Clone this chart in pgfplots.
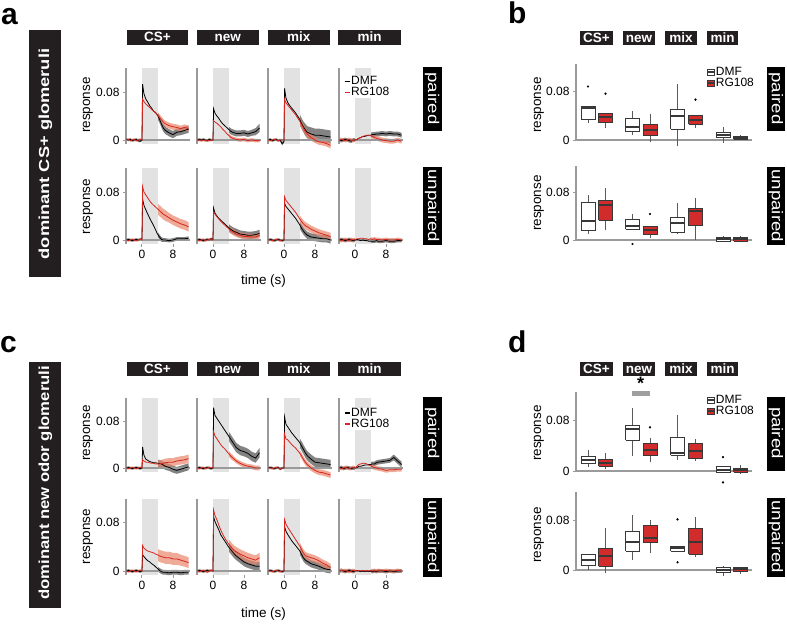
\documentclass[border=0pt]{standalone}
\usepackage{fontspec}
\setmainfont{Liberation Sans}
\usepackage{pgfplots}
\pgfplotsset{compat=1.18}
\usepackage{pgfplotstable}
\usepgfplotslibrary{fillbetween}
\definecolor{rline}{HTML}{D7261E}
\definecolor{rband}{HTML}{E8866C}
\definecolor{bband}{HTML}{5A5A5A}
\definecolor{stimgray}{HTML}{E2E2E2}
\definecolor{axgray}{HTML}{9A9A9A}
\definecolor{hdr}{HTML}{231F20}
\definecolor{boxred}{HTML}{D22B2B}
\definecolor{boxline}{HTML}{383838}
\definecolor{whisk}{HTML}{5A5A5A}

\pgfplotsset{
 ts/.style={anchor=south west, scale only axis, width=63.94pt, xmin=-4.1, xmax=12.4, ymin=-0.006, ymax=0.12,
   axis y line*=left, axis x line*=bottom, x axis line style={draw=none},
   y axis line style={axgray, line width=1.3pt},
   xtick=\empty, ytick=\empty, clip=false, tick align=outside, major tick length=3pt,
   tick style={axgray, line width=1pt},
   tick label style={font=\fontsize{12}{12}\selectfont}},
 tsfirst/.style={ytick={0,0.08}, yticklabels={0,0.08}},
 tsbottom/.style={xtick={0,8}, xticklabels={0,8}},
 tslegend/.style={legend style={at={(0.063,#1)}, anchor=north west, draw=none, fill=white,
   inner sep=0.5pt, row sep=0.5pt, column sep=0.5pt, cells={anchor=west}, nodes={inner sep=0.3pt},
   font=\fontsize{12}{12}\selectfont},
   legend image code/.code={\draw[##1, line width=1.6pt] (0pt,0pt) -- (5pt,0pt);}},
 bx/.style={anchor=south west, scale only axis, width=176pt, xmin=0, xmax=176, ymin=-0.02, ymax=0.128,
   axis y line*=left, axis x line*=bottom, x axis line style={draw=none}, xtick=\empty,
   y axis line style={draw=none},
   ytick={0,0.08}, yticklabels={0,0.08}, clip=false, tick align=outside, major tick length=3pt,
   tick style={axgray, line width=1pt},
   tick label style={font=\fontsize{12}{12}\selectfont}},
 bxlegend/.style={legend style={at={(0.739,#1)}, anchor=north west, draw=none, fill=none,
   inner sep=0.5pt, row sep=0.5pt, column sep=0.5pt, cells={anchor=west}, nodes={inner sep=0.3pt},
   font=\fontsize{12}{12}\selectfont},
   legend image code/.code={\draw[##1, line width=0.9pt] (0pt,-3pt) rectangle (7pt,3pt);
     \draw[##1, line width=1.3pt] (0pt,0pt) -- (7pt,0pt);}},
}

% #1 left x (px), #2 bottom y (px), #3 height (pt), #4 table, #5 options, #6 extra
\newcommand{\ts}[6]{%
\begin{axis}[ts, height=#3pt, at={(#1pt,-#2pt)}, #5]
\fill[stimgray] (axis cs:0,-0.006) rectangle (axis cs:4,0.12);
\draw[axgray, line width=1.3pt] (axis cs:-4.1,0) -- (axis cs:12.4,0);
\addplot[draw=none, name path=du, forget plot] table[x=t, y expr=\thisrow{d}+\thisrow{de}] {#4};
\addplot[draw=none, name path=dl, forget plot] table[x=t, y expr=\thisrow{d}-\thisrow{de}] {#4};
\addplot[bband, fill opacity=0.75, draw=none, forget plot] fill between[of=du and dl];
\addplot[draw=none, name path=ru, forget plot] table[x=t, y expr=\thisrow{r}+\thisrow{re}] {#4};
\addplot[draw=none, name path=rl, forget plot] table[x=t, y expr=\thisrow{r}-\thisrow{re}] {#4};
\addplot[rband, fill opacity=0.7, draw=none, forget plot] fill between[of=ru and rl];
\addplot[black, line width=0.8pt, forget plot] table[x=t,y=d] {#4};
\addplot[rline, line width=0.8pt, forget plot] table[x=t,y=r] {#4};
#6
\end{axis}}

% #1 bottom y (px), #2 height (pt), #3 options, #4 body
\newcommand{\bxax}[4]{%
\begin{axis}[bx, height=#2pt, at={(576pt,-#1pt)}, #3]
\draw[axgray, line width=1.3pt] (axis cs:0,0) -- (axis cs:176,0);
\draw[axgray, line width=1.3pt] (axis cs:0,0) -- (axis cs:0,0.125);
#4
\end{axis}}

% box: #1 position, #2 lower whisker, #3 lower quartile, #4 median, #5 upper quartile, #6 upper whisker, #7 fill
\newcommand{\bp}[7]{%
\pgfmathsetmacro\bxl{#1-7}\pgfmathsetmacro\bxr{#1+7}%
\addplot[forget plot, draw=whisk, line width=0.9pt] coordinates {(#1,#5) (#1,#6)};
\addplot[forget plot, draw=whisk, line width=0.9pt] coordinates {(#1,#3) (#1,#2)};
\addplot[forget plot, draw=boxline, fill=#7, line width=0.9pt] coordinates {(\bxl,#3) (\bxr,#3) (\bxr,#5) (\bxl,#5) (\bxl,#3)};
\addplot[forget plot, draw=boxline, line width=2pt] coordinates {(\bxl,#4) (\bxr,#4)};
}
\newcommand{\ol}[2]{\addplot[forget plot, only marks, mark=*, mark size=0.9pt, black] coordinates {(#1,#2)};}

\newcommand{\boxleg}{\addlegendimage{draw=boxline, fill=white}\addlegendentry{DMF}\addlegendimage{draw=boxline, fill=boxred}\addlegendentry{RG108}}
\newcommand{\tsleg}{\addlegendimage{black}\addlegendentry{DMF}\addlegendimage{rline}\addlegendentry{RG108}}

\begin{document}
% ---------------- panel a, paired
\pgfplotstableread[row sep=\\]{
t d de r re\\
-4 0.001 0.002 0.000 0.002\\
-3.5 0.000 0.002 0.001 0.002\\
-3 0.001 0.002 -0.001 0.002\\
-2.5 -0.001 0.002 0.000 0.002\\
-2 0.000 0.002 0.001 0.002\\
-1.5 0.001 0.002 -0.001 0.002\\
-1 -0.001 0.002 0.000 0.002\\
-0.5 -0.002 0.002 0.001 0.002\\
0 0.000 0.002 0.000 0.002\\
0.15 0.093 0.008 0.068 0.005\\
0.5 0.077 0.008 0.064 0.005\\
1 0.068 0.007 0.060 0.005\\
1.5 0.063 0.007 0.057 0.005\\
2 0.057 0.006 0.054 0.005\\
2.5 0.053 0.006 0.051 0.005\\
3 0.048 0.006 0.048 0.005\\
3.5 0.046 0.006 0.045 0.005\\
4 0.041 0.006 0.042 0.005\\
4.5 0.035 0.006 0.038 0.005\\
5 0.027 0.006 0.034 0.005\\
5.5 0.020 0.006 0.030 0.005\\
6 0.016 0.006 0.027 0.005\\
7 0.012 0.006 0.024 0.005\\
8 0.009 0.006 0.022 0.005\\
9 0.013 0.006 0.021 0.005\\
10 0.014 0.006 0.019 0.005\\
11 0.016 0.006 0.021 0.005\\
12 0.018 0.006 0.019 0.005\\
}\aPa
\pgfplotstableread[row sep=\\]{
t d de r re\\
-4 0.000 0.002 -0.001 0.002\\
-3.5 0.001 0.002 0.000 0.002\\
-3 0.000 0.002 -0.001 0.002\\
-2.5 0.001 0.002 0.000 0.002\\
-2 0.000 0.002 -0.001 0.002\\
-1.5 -0.001 0.002 0.000 0.002\\
-1 0.001 0.002 -0.001 0.002\\
-0.5 0.000 0.002 0.000 0.002\\
0 0.000 0.002 0.000 0.002\\
0.15 0.052 0.006 0.032 0.004\\
0.5 0.045 0.006 0.030 0.004\\
1 0.040 0.006 0.028 0.004\\
1.5 0.036 0.006 0.025 0.004\\
2 0.031 0.006 0.022 0.004\\
2.5 0.027 0.006 0.018 0.004\\
3 0.024 0.005 0.015 0.004\\
3.5 0.021 0.005 0.011 0.004\\
4 0.018 0.005 0.008 0.004\\
4.5 0.015 0.005 0.005 0.003\\
5 0.013 0.005 0.003 0.003\\
5.5 0.012 0.005 0.002 0.003\\
6 0.011 0.005 0.001 0.003\\
7 0.011 0.005 0.000 0.003\\
8 0.012 0.005 0.001 0.003\\
9 0.010 0.005 -0.001 0.003\\
10 0.012 0.005 0.000 0.003\\
11 0.014 0.006 -0.001 0.003\\
12 0.020 0.007 -0.001 0.003\\
}\aPb
\pgfplotstableread[row sep=\\]{
t d de r re\\
-4 0.000 0.002 0.000 0.002\\
-3.5 0.001 0.002 -0.001 0.002\\
-3 -0.001 0.002 0.000 0.002\\
-2.5 0.000 0.002 0.001 0.002\\
-2 0.001 0.002 0.000 0.002\\
-1.5 -0.001 0.002 -0.001 0.002\\
-1 0.000 0.002 0.000 0.002\\
-0.5 -0.006 0.003 0.000 0.002\\
0 -0.003 0.002 0.000 0.002\\
0.15 0.086 0.010 0.068 0.006\\
0.5 0.070 0.010 0.062 0.006\\
1 0.062 0.009 0.058 0.006\\
1.5 0.057 0.009 0.054 0.006\\
2 0.053 0.009 0.050 0.006\\
2.5 0.049 0.009 0.046 0.006\\
3 0.045 0.009 0.042 0.006\\
3.5 0.040 0.009 0.037 0.006\\
4 0.035 0.009 0.032 0.006\\
4.5 0.028 0.009 0.026 0.006\\
5 0.022 0.009 0.020 0.006\\
5.5 0.017 0.010 0.014 0.006\\
6 0.013 0.010 0.010 0.006\\
7 0.010 0.011 0.004 0.005\\
8 0.008 0.011 0.000 0.005\\
9 0.008 0.011 -0.003 0.005\\
10 0.007 0.011 -0.004 0.005\\
11 0.006 0.011 -0.006 0.005\\
12 0.005 0.011 -0.009 0.005\\
}\aPc
\pgfplotstableread[row sep=\\]{
t d de r re\\
-4 0.000 0.003 0.000 0.003\\
-3.5 -0.001 0.003 0.001 0.003\\
-3 0.000 0.003 0.000 0.003\\
-2.5 0.001 0.003 -0.001 0.003\\
-2 0.000 0.003 0.000 0.003\\
-1.5 -0.001 0.003 0.001 0.003\\
-1 -0.002 0.003 0.000 0.003\\
-0.5 0.000 0.003 -0.001 0.003\\
0 0.000 0.003 0.000 0.003\\
0.15 0.000 0.004 0.000 0.004\\
0.5 0.001 0.004 0.001 0.004\\
1 0.003 0.004 0.003 0.004\\
1.5 0.004 0.004 0.004 0.004\\
2 0.006 0.004 0.006 0.004\\
2.5 0.006 0.004 0.007 0.004\\
3 0.007 0.004 0.008 0.004\\
3.5 0.008 0.004 0.008 0.004\\
4 0.008 0.004 0.007 0.004\\
4.5 0.009 0.004 0.006 0.004\\
5 0.009 0.004 0.004 0.004\\
5.5 0.010 0.004 0.003 0.004\\
6 0.010 0.004 0.002 0.004\\
7 0.011 0.004 0.000 0.004\\
8 0.010 0.004 -0.001 0.004\\
9 0.011 0.004 -0.002 0.004\\
10 0.010 0.004 -0.002 0.004\\
11 0.010 0.004 0.000 0.004\\
12 0.008 0.004 -0.002 0.004\\
}\aPd
% ---------------- panel a, unpaired
\pgfplotstableread[row sep=\\]{
t d de r re\\
-4 0.000 0.002 0.000 0.002\\
-3.5 0.001 0.002 -0.001 0.002\\
-3 0.000 0.002 0.000 0.002\\
-2.5 -0.001 0.002 0.001 0.002\\
-2 0.000 0.002 0.000 0.002\\
-1.5 0.001 0.002 -0.001 0.002\\
-1 0.000 0.002 0.000 0.002\\
-0.5 0.001 0.002 0.001 0.002\\
0 0.002 0.002 0.000 0.002\\
0.15 0.068 0.005 0.089 0.009\\
0.5 0.058 0.005 0.080 0.009\\
1 0.050 0.005 0.075 0.009\\
1.5 0.043 0.005 0.070 0.009\\
2 0.036 0.005 0.065 0.009\\
2.5 0.030 0.005 0.061 0.009\\
3 0.024 0.005 0.058 0.009\\
3.5 0.017 0.005 0.055 0.009\\
4 0.010 0.004 0.052 0.009\\
4.5 0.005 0.004 0.049 0.009\\
5 0.001 0.004 0.046 0.009\\
5.5 0.000 0.003 0.043 0.009\\
6 0.000 0.003 0.041 0.009\\
7 -0.001 0.003 0.037 0.008\\
8 0.000 0.003 0.033 0.008\\
9 0.002 0.003 0.030 0.008\\
10 0.002 0.003 0.027 0.008\\
11 0.002 0.003 0.025 0.008\\
12 0.003 0.003 0.022 0.008\\
}\aUa
\pgfplotstableread[row sep=\\]{
t d de r re\\
-4 0.000 0.002 0.000 0.002\\
-3.5 0.001 0.002 -0.001 0.002\\
-3 0.000 0.002 0.000 0.002\\
-2.5 -0.001 0.002 0.001 0.002\\
-2 0.000 0.002 -0.001 0.002\\
-1.5 0.001 0.002 0.000 0.002\\
-1 0.000 0.002 0.001 0.002\\
-0.5 0.002 0.002 0.000 0.002\\
0 0.001 0.002 0.000 0.002\\
0.15 0.053 0.006 0.047 0.005\\
0.5 0.045 0.006 0.043 0.005\\
1 0.040 0.006 0.039 0.005\\
1.5 0.036 0.006 0.035 0.005\\
2 0.033 0.006 0.031 0.005\\
2.5 0.030 0.006 0.028 0.005\\
3 0.027 0.006 0.025 0.005\\
3.5 0.024 0.006 0.022 0.005\\
4 0.021 0.006 0.019 0.005\\
4.5 0.018 0.006 0.016 0.005\\
5 0.016 0.006 0.014 0.005\\
5.5 0.014 0.006 0.012 0.005\\
6 0.013 0.006 0.010 0.005\\
7 0.010 0.006 0.008 0.005\\
8 0.009 0.006 0.006 0.005\\
9 0.008 0.006 0.006 0.005\\
10 0.008 0.006 0.005 0.005\\
11 0.009 0.006 0.005 0.005\\
12 0.011 0.006 0.008 0.005\\
}\aUb
\pgfplotstableread[row sep=\\]{
t d de r re\\
-4 0.000 0.002 0.000 0.002\\
-3.5 0.001 0.002 0.000 0.002\\
-3 0.000 0.002 -0.001 0.002\\
-2.5 -0.001 0.002 0.000 0.002\\
-2 0.000 0.002 0.001 0.002\\
-1.5 0.001 0.002 0.000 0.002\\
-1 0.000 0.002 -0.001 0.002\\
-0.5 -0.001 0.002 0.000 0.002\\
0 0.000 0.002 0.000 0.002\\
0.15 0.061 0.006 0.072 0.006\\
0.5 0.056 0.006 0.066 0.006\\
1 0.052 0.006 0.062 0.006\\
1.5 0.048 0.006 0.058 0.006\\
2 0.044 0.006 0.054 0.006\\
2.5 0.040 0.006 0.050 0.006\\
3 0.036 0.006 0.046 0.006\\
3.5 0.031 0.006 0.041 0.006\\
4 0.026 0.006 0.036 0.006\\
4.5 0.020 0.006 0.031 0.006\\
5 0.015 0.006 0.027 0.006\\
5.5 0.011 0.006 0.024 0.006\\
6 0.008 0.006 0.022 0.006\\
7 0.005 0.006 0.018 0.006\\
8 0.004 0.006 0.015 0.006\\
9 0.003 0.006 0.012 0.006\\
10 0.002 0.006 0.010 0.006\\
11 0.002 0.006 0.008 0.006\\
12 0.000 0.006 0.006 0.006\\
}\aUc
\pgfplotstableread[row sep=\\]{
t d de r re\\
-4 0.000 0.003 0.000 0.003\\
-3.5 0.001 0.003 -0.001 0.003\\
-3 0.000 0.003 0.000 0.003\\
-2.5 -0.001 0.003 0.001 0.003\\
-2 0.000 0.003 0.000 0.003\\
-1.5 0.001 0.003 -0.001 0.003\\
-1 0.000 0.003 0.001 0.003\\
-0.5 -0.001 0.003 0.000 0.003\\
0 0.000 0.003 0.001 0.003\\
0.15 0.000 0.003 0.001 0.003\\
0.5 0.001 0.003 0.002 0.003\\
1 0.000 0.003 0.002 0.003\\
1.5 -0.001 0.003 0.003 0.003\\
2 0.000 0.003 0.003 0.003\\
2.5 -0.001 0.003 0.002 0.003\\
3 -0.001 0.003 0.002 0.003\\
3.5 -0.002 0.003 0.001 0.003\\
4 -0.002 0.003 0.002 0.003\\
4.5 -0.002 0.003 0.001 0.003\\
5 -0.002 0.003 0.002 0.003\\
5.5 -0.001 0.003 0.001 0.003\\
6 -0.002 0.003 0.001 0.003\\
7 -0.002 0.003 0.000 0.003\\
8 -0.001 0.003 0.001 0.003\\
9 -0.002 0.003 0.000 0.003\\
10 -0.002 0.003 0.000 0.003\\
11 -0.001 0.003 0.001 0.003\\
12 -0.001 0.003 0.000 0.003\\
}\aUd
% ---------------- panel c, paired
\pgfplotstableread[row sep=\\]{
t d de r re\\
-4 0.000 0.002 0.000 0.002\\
-3.5 0.001 0.002 -0.001 0.002\\
-3 0.000 0.002 0.000 0.002\\
-2.5 -0.001 0.002 0.001 0.002\\
-2 0.000 0.002 0.000 0.002\\
-1.5 0.001 0.002 -0.001 0.002\\
-1 0.000 0.002 0.000 0.002\\
-0.5 -0.001 0.002 0.001 0.002\\
0 0.000 0.002 0.000 0.002\\
0.15 0.036 0.006 0.014 0.006\\
0.5 0.022 0.006 0.012 0.006\\
1 0.015 0.006 0.010 0.006\\
1.5 0.013 0.006 0.010 0.006\\
2 0.011 0.006 0.009 0.006\\
2.5 0.010 0.006 0.008 0.006\\
3 0.009 0.006 0.008 0.006\\
3.5 0.009 0.006 0.007 0.006\\
4 0.008 0.006 0.007 0.006\\
4.5 0.008 0.006 0.007 0.006\\
5 0.007 0.006 0.008 0.006\\
5.5 0.005 0.006 0.008 0.007\\
6 0.003 0.006 0.009 0.007\\
7 0.001 0.006 0.010 0.007\\
8 -0.002 0.006 0.010 0.007\\
9 -0.004 0.006 0.012 0.007\\
10 -0.002 0.006 0.013 0.007\\
11 0.000 0.006 0.014 0.007\\
12 0.002 0.006 0.016 0.007\\
}\cPa
\pgfplotstableread[row sep=\\]{
t d de r re\\
-4 0.000 0.002 0.000 0.002\\
-3.5 0.001 0.002 -0.001 0.002\\
-3 0.000 0.002 0.000 0.002\\
-2.5 -0.001 0.002 0.001 0.002\\
-2 0.000 0.002 -0.001 0.002\\
-1.5 0.001 0.002 0.000 0.002\\
-1 0.000 0.002 0.001 0.002\\
-0.5 -0.001 0.002 0.000 0.002\\
0 0.000 0.002 0.000 0.002\\
0.15 0.103 0.008 0.062 0.006\\
0.5 0.090 0.008 0.055 0.006\\
1 0.085 0.008 0.050 0.006\\
1.5 0.080 0.008 0.045 0.006\\
2 0.075 0.008 0.040 0.005\\
2.5 0.070 0.008 0.036 0.005\\
3 0.065 0.008 0.033 0.005\\
3.5 0.060 0.008 0.029 0.005\\
4 0.055 0.008 0.025 0.005\\
4.5 0.050 0.008 0.021 0.005\\
5 0.045 0.008 0.018 0.005\\
5.5 0.040 0.008 0.015 0.004\\
6 0.035 0.008 0.012 0.004\\
7 0.030 0.008 0.008 0.004\\
8 0.028 0.008 0.005 0.004\\
9 0.025 0.008 0.003 0.004\\
10 0.020 0.008 0.002 0.004\\
11 0.017 0.008 0.000 0.004\\
12 0.026 0.008 0.000 0.004\\
}\cPb
\pgfplotstableread[row sep=\\]{
t d de r re\\
-4 0.000 0.002 0.000 0.002\\
-3.5 0.001 0.002 0.000 0.002\\
-3 0.000 0.002 -0.001 0.002\\
-2.5 -0.001 0.002 0.000 0.002\\
-2 0.000 0.002 0.001 0.002\\
-1.5 0.001 0.002 0.000 0.002\\
-1 -0.002 0.002 -0.001 0.002\\
-0.5 0.000 0.002 0.000 0.002\\
0 0.000 0.002 0.000 0.002\\
0.15 0.087 0.008 0.058 0.005\\
0.5 0.075 0.008 0.050 0.005\\
1 0.070 0.008 0.048 0.005\\
1.5 0.065 0.008 0.044 0.005\\
2 0.060 0.008 0.040 0.005\\
2.5 0.056 0.008 0.037 0.005\\
3 0.052 0.008 0.034 0.005\\
3.5 0.048 0.008 0.030 0.005\\
4 0.044 0.008 0.026 0.005\\
4.5 0.038 0.008 0.021 0.005\\
5 0.032 0.008 0.015 0.005\\
5.5 0.026 0.008 0.010 0.005\\
6 0.021 0.008 0.006 0.005\\
7 0.015 0.008 0.000 0.005\\
8 0.010 0.008 -0.004 0.005\\
9 0.009 0.008 -0.007 0.005\\
10 0.008 0.008 -0.008 0.005\\
11 0.007 0.008 -0.010 0.005\\
12 0.006 0.008 -0.012 0.005\\
}\cPc
\pgfplotstableread[row sep=\\]{
t d de r re\\
-4 0.000 0.003 0.000 0.003\\
-3.5 0.001 0.003 -0.001 0.003\\
-3 -0.001 0.003 0.000 0.003\\
-2.5 0.000 0.003 0.001 0.003\\
-2 0.001 0.003 0.000 0.003\\
-1.5 0.000 0.003 -0.001 0.003\\
-1 -0.001 0.003 0.000 0.003\\
-0.5 0.000 0.003 0.001 0.003\\
0 0.000 0.003 0.000 0.003\\
0.15 0.000 0.004 0.000 0.004\\
0.5 0.001 0.004 0.003 0.004\\
1 0.003 0.004 0.006 0.004\\
1.5 0.003 0.004 0.007 0.004\\
2 0.004 0.004 0.008 0.004\\
2.5 0.005 0.004 0.008 0.004\\
3 0.005 0.004 0.007 0.004\\
3.5 0.006 0.004 0.005 0.004\\
4 0.006 0.004 0.004 0.004\\
4.5 0.007 0.004 0.002 0.004\\
5 0.007 0.004 0.001 0.004\\
5.5 0.009 0.004 0.000 0.004\\
6 0.010 0.004 -0.001 0.004\\
7 0.011 0.004 -0.002 0.004\\
8 0.012 0.004 -0.004 0.004\\
9 0.013 0.004 -0.003 0.004\\
10 0.018 0.005 -0.003 0.004\\
11 0.012 0.005 -0.002 0.004\\
12 0.006 0.005 -0.002 0.004\\
}\cPd
% ---------------- panel c, unpaired
\pgfplotstableread[row sep=\\]{
t d de r re\\
-4 0.000 0.002 0.000 0.002\\
-3.5 0.001 0.002 -0.001 0.002\\
-3 0.000 0.002 0.000 0.002\\
-2.5 -0.001 0.002 0.001 0.002\\
-2 0.000 0.002 0.000 0.002\\
-1.5 0.001 0.002 -0.001 0.002\\
-1 0.000 0.002 0.000 0.002\\
-0.5 -0.001 0.002 0.001 0.002\\
0 0.000 0.002 0.000 0.002\\
0.15 0.027 0.005 0.042 0.010\\
0.5 0.024 0.005 0.038 0.010\\
1 0.020 0.005 0.035 0.010\\
1.5 0.017 0.005 0.033 0.010\\
2 0.015 0.005 0.032 0.010\\
2.5 0.012 0.005 0.031 0.010\\
3 0.010 0.005 0.030 0.010\\
3.5 0.007 0.005 0.028 0.010\\
4 0.004 0.004 0.027 0.010\\
4.5 0.001 0.004 0.025 0.010\\
5 -0.001 0.004 0.024 0.010\\
5.5 -0.002 0.004 0.023 0.010\\
6 -0.002 0.004 0.022 0.010\\
7 -0.003 0.004 0.022 0.010\\
8 -0.002 0.004 0.020 0.010\\
9 -0.002 0.004 0.020 0.010\\
10 -0.003 0.004 0.018 0.009\\
11 -0.002 0.004 0.016 0.009\\
12 -0.002 0.004 0.014 0.009\\
}\cUa
\pgfplotstableread[row sep=\\]{
t d de r re\\
-4 0.000 0.002 0.000 0.002\\
-3.5 0.001 0.002 -0.001 0.002\\
-3 0.000 0.002 0.000 0.002\\
-2.5 -0.001 0.002 0.001 0.002\\
-2 0.000 0.002 0.000 0.002\\
-1.5 0.001 0.002 -0.002 0.002\\
-1 0.000 0.002 0.000 0.002\\
-0.5 0.001 0.002 0.001 0.002\\
0 0.000 0.002 0.000 0.002\\
0.15 0.090 0.007 0.101 0.008\\
0.5 0.082 0.007 0.092 0.008\\
1 0.075 0.007 0.085 0.008\\
1.5 0.068 0.007 0.076 0.008\\
2 0.060 0.007 0.068 0.008\\
2.5 0.055 0.007 0.061 0.008\\
3 0.050 0.007 0.055 0.008\\
3.5 0.045 0.007 0.050 0.008\\
4 0.040 0.007 0.045 0.008\\
4.5 0.036 0.007 0.041 0.008\\
5 0.032 0.007 0.037 0.008\\
5.5 0.028 0.007 0.034 0.008\\
6 0.025 0.007 0.032 0.008\\
7 0.020 0.007 0.028 0.008\\
8 0.015 0.007 0.025 0.008\\
9 0.012 0.007 0.022 0.008\\
10 0.010 0.007 0.020 0.008\\
11 0.008 0.007 0.018 0.008\\
12 0.008 0.007 0.022 0.008\\
}\cUb
\pgfplotstableread[row sep=\\]{
t d de r re\\
-4 0.000 0.002 0.000 0.002\\
-3.5 0.001 0.002 0.000 0.002\\
-3 0.000 0.002 -0.001 0.002\\
-2.5 -0.001 0.002 0.000 0.002\\
-2 0.000 0.002 0.001 0.002\\
-1.5 0.001 0.002 0.000 0.002\\
-1 0.000 0.002 -0.001 0.002\\
-0.5 -0.001 0.002 0.000 0.002\\
0 0.000 0.002 0.000 0.002\\
0.15 0.073 0.006 0.085 0.006\\
0.5 0.066 0.006 0.078 0.006\\
1 0.060 0.006 0.072 0.006\\
1.5 0.055 0.006 0.067 0.006\\
2 0.050 0.006 0.062 0.006\\
2.5 0.046 0.006 0.057 0.006\\
3 0.042 0.006 0.052 0.006\\
3.5 0.038 0.006 0.047 0.006\\
4 0.034 0.006 0.042 0.006\\
4.5 0.028 0.006 0.036 0.006\\
5 0.022 0.006 0.030 0.006\\
5.5 0.018 0.006 0.026 0.006\\
6 0.016 0.006 0.024 0.006\\
7 0.012 0.006 0.022 0.006\\
8 0.010 0.006 0.020 0.006\\
9 0.008 0.006 0.017 0.006\\
10 0.005 0.006 0.013 0.006\\
11 0.003 0.006 0.010 0.006\\
12 0.002 0.006 0.006 0.006\\
}\cUc
\pgfplotstableread[row sep=\\]{
t d de r re\\
-4 0.000 0.003 0.000 0.003\\
-3.5 0.001 0.003 0.001 0.003\\
-3 0.000 0.003 0.000 0.003\\
-2.5 -0.001 0.003 0.001 0.003\\
-2 0.000 0.003 0.000 0.003\\
-1.5 0.001 0.003 -0.001 0.003\\
-1 0.000 0.003 0.000 0.003\\
-0.5 -0.001 0.003 0.001 0.003\\
0 0.000 0.003 0.000 0.003\\
0.15 0.000 0.003 0.001 0.003\\
0.5 0.001 0.003 0.000 0.003\\
1 0.000 0.003 0.001 0.003\\
1.5 -0.001 0.003 0.000 0.003\\
2 0.000 0.003 0.001 0.003\\
2.5 -0.001 0.003 0.000 0.003\\
3 0.000 0.003 0.001 0.003\\
3.5 -0.001 0.003 0.000 0.003\\
4 0.000 0.003 0.001 0.003\\
4.5 -0.001 0.003 0.000 0.003\\
5 0.000 0.003 0.001 0.003\\
5.5 -0.001 0.003 0.000 0.003\\
6 0.000 0.003 0.001 0.003\\
7 0.000 0.003 0.000 0.003\\
8 -0.001 0.003 0.001 0.003\\
9 0.000 0.003 0.000 0.003\\
10 -0.001 0.003 0.000 0.003\\
11 0.000 0.003 0.001 0.003\\
12 0.000 0.003 0.000 0.003\\
}\cUd

\begin{tikzpicture}
% ===== panel a traces
\ts{126.11}{143.6}{75.6}{\aPa}{tsfirst}{}
\ts{197.11}{143.6}{75.6}{\aPb}{}{}
\ts{268.11}{143.6}{75.6}{\aPc}{}{}
\ts{339.11}{143.6}{75.6}{\aPd}{tslegend=0.9}{\tsleg}
\ts{126.11}{243.6}{75.6}{\aUa}{tsfirst,tsbottom}{}
\ts{197.11}{243.6}{75.6}{\aUb}{tsbottom}{}
\ts{268.11}{243.6}{75.6}{\aUc}{tsbottom}{}
\ts{339.11}{243.6}{75.6}{\aUd}{tsbottom}{}
% ===== panel c traces
\ts{126.11}{471.51}{73.71}{\cPa}{tsfirst}{}
\ts{197.11}{471.51}{73.71}{\cPb}{}{}
\ts{268.11}{471.51}{73.71}{\cPc}{}{}
\ts{339.11}{471.51}{73.71}{\cPd}{tslegend=0.87}{\tsleg}
\ts{126.11}{574.62}{76.1}{\cUa}{tsfirst,tsbottom}{}
\ts{197.11}{574.62}{76.1}{\cUb}{tsbottom}{}
\ts{268.11}{574.62}{76.1}{\cUc}{tsbottom}{}
\ts{339.11}{574.62}{76.1}{\cUd}{tsbottom}{}

% ===== panel b boxes
\bxax{152.24}{90.58}{bxlegend=0.95}{
\bp{12}{0.027}{0.0335}{0.053}{0.055}{0.055}{white}\ol{12}{0.0875}
\bp{29.5}{0.019}{0.028}{0.038}{0.044}{0.044}{boxred}\ol{29.5}{0.0757}
\bp{56.5}{0.008}{0.0135}{0.0216}{0.035}{0.047}{white}
\bp{74}{-0.003}{0.008}{0.016}{0.025}{0.042}{boxred}
\bp{101.5}{-0.009}{0.0173}{0.039}{0.0497}{0.091}{white}
\bp{119.5}{0.019}{0.026}{0.0335}{0.0405}{0.0405}{boxred}\ol{119.5}{0.066}
\bp{147}{-0.005}{0.0043}{0.008}{0.0124}{0.0216}{white}
\bp{164.5}{-0.0005}{0.001}{0.003}{0.006}{0.0076}{boxred}
\boxleg}
\bxax{251.92}{88.21}{}{
\bp{12}{0.0095}{0.0168}{0.0319}{0.0637}{0.0755}{white}
\bp{29.5}{0.0168}{0.0335}{0.0587}{0.067}{0.088}{boxred}
\bp{56.5}{0.0179}{0.0179}{0.0235}{0.0347}{0.0436}{white}\ol{56.5}{-0.0067}
\bp{74}{0.004}{0.0095}{0.0168}{0.0224}{0.0224}{boxred}\ol{74}{0.0436}
\bp{101.5}{0.0095}{0.0129}{0.028}{0.0375}{0.0615}{white}
\bp{119.5}{0.0}{0.024}{0.0492}{0.053}{0.07}{boxred}
\bp{147}{-0.002}{-0.002}{0.001}{0.004}{0.007}{white}
\bp{164.5}{-0.002}{-0.002}{0.001}{0.004}{0.006}{boxred}
}
% ===== panel d boxes
\bxax{483.66}{93.68}{bxlegend=0.955}{
\bp{12}{0.0063}{0.0116}{0.0168}{0.0231}{0.0337}{white}
\bp{29.5}{0.0026}{0.0079}{0.0126}{0.0179}{0.0284}{boxred}
\bp{56.5}{0.0231}{0.0484}{0.0668}{0.072}{0.0994}{white}
\bp{74}{0.0142}{0.0247}{0.0326}{0.0431}{0.0526}{boxred}\ol{74}{0.069}
\bp{101.5}{0.0179}{0.0247}{0.0289}{0.0526}{0.0878}{white}
\bp{119.5}{0.0158}{0.0195}{0.031}{0.0431}{0.051}{boxred}
\bp{147}{-0.0016}{-0.0016}{0.001}{0.0074}{0.0074}{white}\ol{147}{0.022}\ol{147}{-0.018}
\bp{164.5}{-0.004}{-0.0016}{0.001}{0.0047}{0.009}{boxred}
\boxleg}
\bxax{582.5}{92.5}{}{
\bp{12}{0.0}{0.0069}{0.016}{0.025}{0.025}{white}
\bp{29.5}{-0.0053}{0.0064}{0.0224}{0.0347}{0.0667}{boxred}
\bp{56.5}{0.016}{0.0304}{0.0453}{0.0624}{0.088}{white}
\bp{74}{0.0267}{0.0437}{0.0517}{0.0709}{0.08}{boxred}
\bp{101.5}{0.0304}{0.0304}{0.0347}{0.0384}{0.0384}{white}\ol{101.5}{0.081}\ol{101.5}{0.0123}
\bp{119.5}{0.0203}{0.0256}{0.0453}{0.0667}{0.0843}{boxred}
\bp{147}{-0.0096}{-0.0037}{0.0}{0.0037}{0.0064}{white}
\bp{164.5}{-0.0064}{-0.0027}{0.001}{0.0037}{0.0037}{boxred}
}

% ===== text and decorations
\begin{scope}[x=1pt,y=-1pt]
\tikzset{hd/.style={white, font=\bfseries\fontsize{13.5}{13.5}\selectfont, anchor=base, inner sep=0pt},
 rl/.style={rotate=90, font=\fontsize{13.5}{13.5}\selectfont},
 sl/.style={rotate=-90, white, font=\fontsize{15.5}{15.5}\selectfont},
 pl/.style={font=\bfseries\fontsize{30}{30}\selectfont, anchor=base west, inner sep=0pt}}
% panel letters
\node[pl] at (1,24) {a};
\node[pl] at (508,23) {b};
\node[pl] at (0,352) {c};
\node[pl] at (508,352) {d};
% banners
\fill[hdr] (29.3,30) rectangle (61,276.7);
\node[rotate=90, white, font=\bfseries\fontsize{14.5}{14.5}\selectfont] at (45.5,154) {\scalebox{1.26}[1]{dominant CS+ glomeruli}};
\fill[hdr] (29.3,361.7) rectangle (61,607.7);
\node[rotate=90, white, font=\bfseries\fontsize{14.5}{14.5}\selectfont] at (45.5,482.7) {\scalebox{1.15}[1]{dominant new odor glomeruli}};
% headers a/c
\foreach \xa/\xb/\lab in {126.7/188.3/CS+, 196.7/259/new, 267.7/330/mix, 338/401/min}{
  \fill[hdr] (\xa,30) rectangle (\xb,45);
  \node[hd] at ({(\xa+\xb)/2},41.7) {\lab};
  \fill[hdr] (\xa,361.7) rectangle (\xb,376);
  \node[hd] at ({(\xa+\xb)/2},373.3) {\lab};
}
% headers b/d
\foreach \xa/\xb/\lab in {580/613/CS+, 623/655/new, 665/697/mix, 707/738/min}{
  \fill[hdr] (\xa,30.7) rectangle (\xb,45);
  \node[hd] at ({(\xa+\xb)/2},42.5) {\lab};
  \fill[hdr] (\xa,361.7) rectangle (\xb,375.5);
  \node[hd] at ({(\xa+\xb)/2},373.5) {\lab};
}
% side labels
\foreach \xa/\xb in {422.7/441.7, 766.7/785}{
  \fill[black] (\xa,66.7) rectangle (\xb,131);
  \node[sl] at ({(\xa+\xb)/2},98.5) {\scalebox{1.2}[1]{paired}};
  \fill[black] (\xa,167) rectangle (\xb,244.5);
  \node[sl] at ({(\xa+\xb)/2},205.7) {\scalebox{1.2}[1]{unpaired}};
  \fill[black] (\xa,397.2) rectangle (\xb,471);
  \node[sl] at ({(\xa+\xb)/2},433) {\scalebox{1.2}[1]{paired}};
  \fill[black] (\xa,497.5) rectangle (\xb,576.5);
  \node[sl] at ({(\xa+\xb)/2},536.7) {\scalebox{1.2}[1]{unpaired}};
}
% response labels
\node[rl] at (88,105) {response};
\node[rl] at (88,206.7) {response};
\node[rl] at (88,433) {response};
\node[rl] at (88,536.7) {response};
\node[rl] at (539,105) {response};
\node[rl] at (539,203) {response};
\node[rl] at (539,433) {response};
\node[rl] at (539,535) {response};
% time labels
\node[font=\fontsize{13.5}{13.5}\selectfont, anchor=base] at (263.5,284) {time (s)};
\node[font=\fontsize{13.5}{13.5}\selectfont, anchor=base] at (263.5,617) {time (s)};
% significance
\fill[gray!75] (631.7,391) rectangle (650,396);
\node[font=\bfseries\fontsize{18}{18}\selectfont, anchor=north, inner sep=0pt] at (640.5,377) {*};
\end{scope}
\pgfresetboundingbox
\path[use as bounding box] (0pt,0pt) rectangle (787pt,-625pt);
\end{tikzpicture}
\end{document}
